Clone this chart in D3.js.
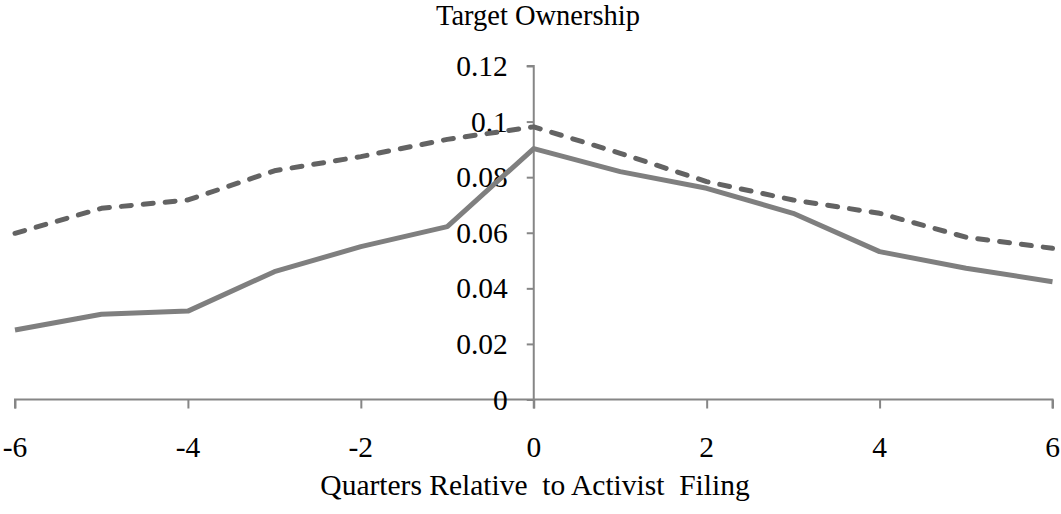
<!DOCTYPE html>
<html>
<head>
<meta charset="utf-8">
<script src="https://cdn.jsdelivr.net/npm/d3@7"></script>
<style>
  html, body { margin: 0; padding: 0; background: #ffffff; }
  svg { display: block; }
  svg text { font-family: "Liberation Serif", "Times New Roman", "DejaVu Serif", serif; fill: #000; }
</style>
</head>
<body>
<svg id="chart" width="1061" height="514"></svg>
<script>
// ---- data ----
const quarters = [-6, -5, -4, -3, -2, -1, 0, 1, 2, 3, 4, 5, 6];
const solidSeries = [0.025, 0.0307, 0.0318, 0.046, 0.055, 0.0622, 0.0903, 0.082, 0.076, 0.067, 0.0532, 0.0472, 0.0424];
const dashedSeries = [0.0598, 0.0688, 0.0718, 0.0823, 0.0874, 0.0936, 0.0981, 0.0886, 0.0784, 0.0718, 0.067, 0.0584, 0.0544];
const xTickValues = [-6, -4, -2, 0, 2, 4, 6];
const xTickLabels = ["-6", "-4", "-2", "0", "2", "4", "6"];
const yTickValues = [0, 0.02, 0.04, 0.06, 0.08, 0.1, 0.12];
const yTickLabels = ["0", "0.02", "0.04", "0.06", "0.08", "0.1", "0.12"];
const titleText = "Target Ownership";
const xTitleText = "Quarters Relative  to Activist  Filing";

// ---- layout ----
const svg = d3.select("#chart");
const fontFamily = "'Liberation Serif', 'Times New Roman', 'DejaVu Serif', serif";
const tickFont = 29.5;
const titleFont = 28.5;
const axisColor = "#868686";

const x = d3.scaleLinear().domain([-6, 6]).range([15, 1052.5]);
const y = d3.scaleLinear().domain([0, 0.12]).range([399.5, 66]);

// x axis (ticks downward)
const xAxis = d3.axisBottom(x).tickValues(xTickValues).tickSize(9).tickFormat("");
const gx = svg.append("g").attr("transform", `translate(0,${y(0)})`).call(xAxis);
gx.select(".domain").attr("stroke", axisColor).attr("stroke-width", 2)
  .attr("d", `M${x(-6)},9V0H${x(6)}V9`);
gx.selectAll(".tick line").attr("stroke", axisColor).attr("stroke-width", 2);

// y axis at x = 0 (ticks to the left)
const yAxis = d3.axisLeft(y).tickValues(yTickValues).tickSize(7).tickFormat("");
const gy = svg.append("g").attr("transform", `translate(${x(0)},0)`).call(yAxis);
gy.select(".domain").attr("stroke", axisColor).attr("stroke-width", 2)
  .attr("d", `M-7,${y(0.12)}H0V${y(0) + 9}`);
gy.selectAll(".tick line").attr("stroke", axisColor).attr("stroke-width", 2);

// y tick labels
svg.append("g").selectAll("text").data(yTickValues).join("text")
  .attr("x", x(0) - 26)
  .attr("y", d => y(d) + tickFont * 0.34)
  .attr("text-anchor", "end")
  .attr("font-family", fontFamily)
  .attr("font-size", tickFont)
  .text((d, i) => yTickLabels[i]);

// x tick labels
svg.append("g").selectAll("text").data(xTickValues).join("text")
  .attr("x", d => x(d))
  .attr("y", 457)
  .attr("text-anchor", "middle")
  .attr("font-family", fontFamily)
  .attr("font-size", tickFont)
  .text((d, i) => xTickLabels[i]);

// lines
const line = d3.line().x((d, i) => x(quarters[i])).y(d => y(d));

svg.append("path").datum(solidSeries)
  .attr("fill", "none")
  .attr("stroke", "#7f7f7f")
  .attr("stroke-width", 5)
  .attr("stroke-linejoin", "round")
  .attr("d", line);

svg.append("path").datum(dashedSeries)
  .attr("fill", "none")
  .attr("stroke", "#636363")
  .attr("stroke-width", 5)
  .attr("stroke-linejoin", "round")
  .attr("stroke-linecap", "round")
  .attr("stroke-dasharray", "10,12")
  .attr("d", line);

// titles
svg.append("text")
  .attr("x", 538).attr("y", 25)
  .attr("text-anchor", "middle")
  .attr("font-family", fontFamily)
  .attr("font-size", titleFont)
  .text(titleText);

svg.append("text")
  .attr("x", 535).attr("y", 495)
  .attr("text-anchor", "middle")
  .attr("font-family", fontFamily)
  .attr("font-size", tickFont)
  .attr("xml:space", "preserve")
  .style("white-space", "pre")
  .text(xTitleText);
</script>
</body>
</html>
